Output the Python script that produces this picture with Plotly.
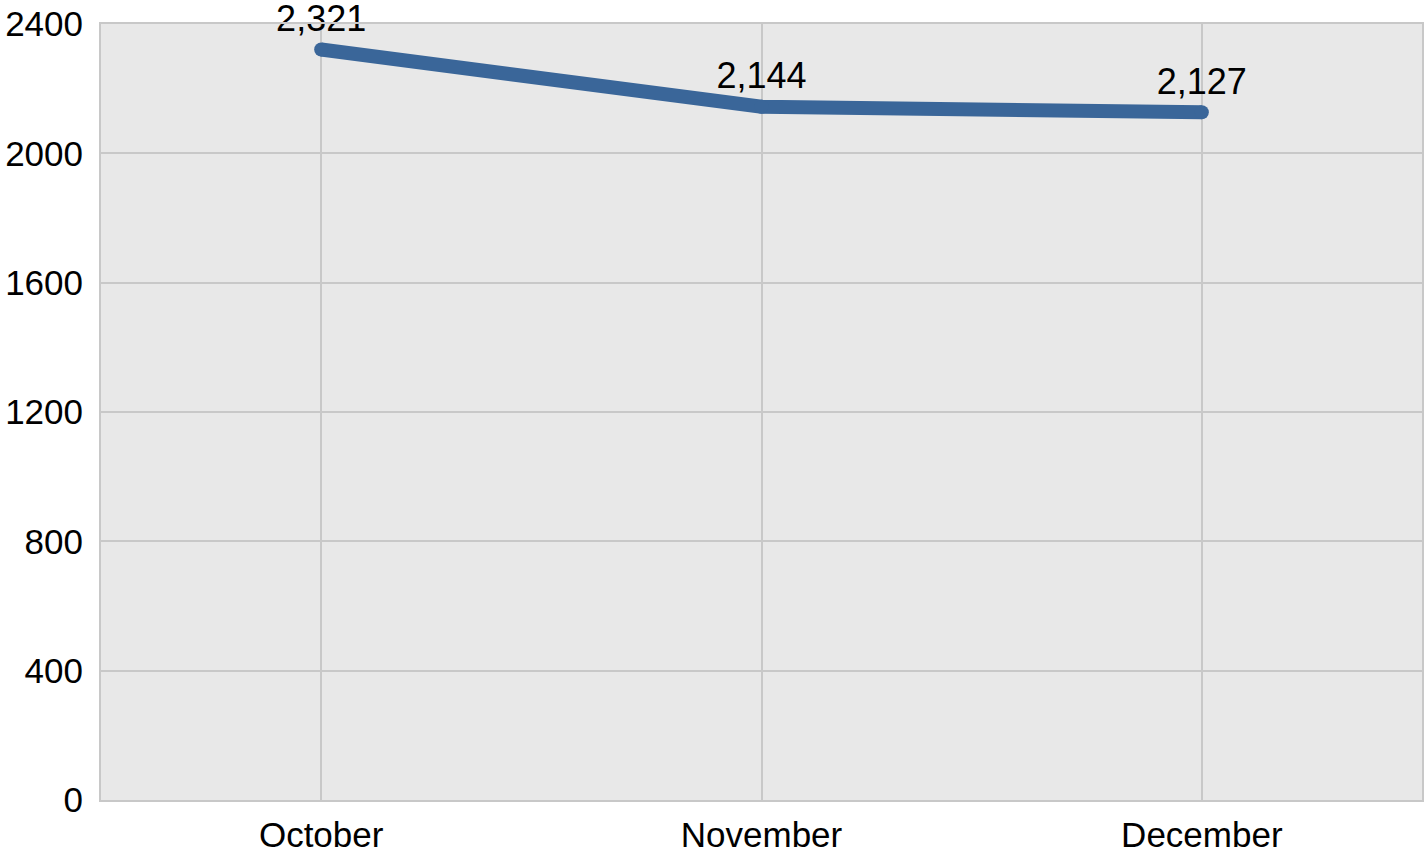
import plotly.graph_objects as go

months = ["October", "November", "December"]
values = [2321, 2144, 2127]
value_labels = ["2,321", "2,144", "2,127"]
y_ticks = [0, 400, 800, 1200, 1600, 2000, 2400]

line_color = "#3a6699"
grid_color = "#c8c8c8"
font_family = "Liberation Sans, Arial, sans-serif"

fig = go.Figure()
fig.add_trace(go.Scatter(
    x=months, y=values,
    mode="lines+markers+text",
    line=dict(color=line_color, width=14),
    marker=dict(color=line_color, size=14),
    text=value_labels,
    textposition="top center",
    textfont=dict(family=font_family, size=36, color="#000000"),
    cliponaxis=False,
    hoverinfo="skip",
))

fig.update_layout(
    width=1427, height=852,
    margin=dict(l=101, r=5, t=24, b=52, autoexpand=False),
    paper_bgcolor="#ffffff",
    plot_bgcolor="#e8e8e8",
    showlegend=False,
    font=dict(family=font_family, size=35, color="#000000"),
)
fig.update_xaxes(
    type="category", range=[-0.5, 2.5],
    showgrid=True, gridcolor=grid_color, gridwidth=2,
    showline=True, linecolor=grid_color, linewidth=2, mirror=True,
    ticks="", tickfont=dict(size=35), automargin=False,
    ticklabelstandoff=3,
)
fig.update_yaxes(
    range=[0, 2400], tickvals=y_ticks,
    showgrid=True, gridcolor=grid_color, gridwidth=2,
    showline=True, linecolor=grid_color, linewidth=2, mirror=True,
    zeroline=False, ticks="", tickfont=dict(size=35),
    ticklabelstandoff=9, automargin=False,
)

fig.write_html(
    "out.html",
    config={"displayModeBar": False},
    post_script="document.body.style.margin='0';document.body.style.overflow='hidden';",
)
